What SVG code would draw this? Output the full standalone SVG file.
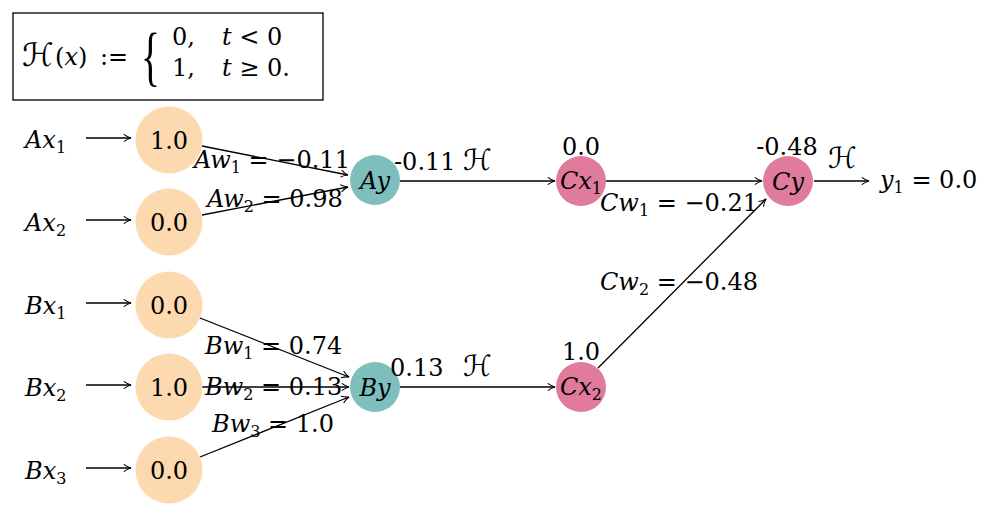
<svg xmlns="http://www.w3.org/2000/svg" width="996" height="518" viewBox="0 0 996 518">
<style>
text{font-family:"DejaVu Serif","Liberation Serif",serif;font-size:24px;fill:#000}
.i{font-style:italic}
.s{font-size:16px}
.cal{font-family:"DejaVu Serif","DejaVu Sans",serif;font-style:italic;font-size:29px}
.in{fill:#FCD9AE}
.hid{fill:#7EBFBD}
.out{fill:#E07B9C}
.ln{stroke:#000;stroke-width:1.3;fill:none}
.arr{marker-end:url(#ah)}
</style>
<defs>
<marker id="ah" viewBox="0 0 10 10" refX="9" refY="5" markerWidth="9" markerHeight="9" markerUnits="userSpaceOnUse" orient="auto">
<path d="M1,1 Q5,4 9,5 Q5,6 1,9" fill="none" stroke="#000" stroke-width="1.2"/>
</marker>
</defs>
<g id="formula">
<rect x="13" y="13" width="310" height="87" fill="#fff" stroke="#000" stroke-width="1.3"/>
<text x="22" y="66" class="cal" style="font-size:32px">ℋ</text>
<text x="55" y="65">(<tspan class="i">x</tspan>)</text>
<text x="100" y="65">:=</text>
<text transform="translate(141,78) scale(0.6,1)" style="font-family:'Liberation Serif',serif;font-size:66px">{</text>
<text x="172" y="45">0,</text>
<text x="222" y="45"><tspan class="i">t</tspan> &lt; 0</text>
<text x="172" y="76">1,</text>
<text x="222" y="76"><tspan class="i">t</tspan> ≥ 0.</text>
</g>
<g id="connectors">
<line class="ln arr" x1="86" y1="138" x2="131" y2="138"/>
<line class="ln arr" x1="86" y1="220" x2="131" y2="220"/>
<line class="ln arr" x1="86" y1="303" x2="131" y2="303"/>
<line class="ln arr" x1="86" y1="385" x2="131" y2="385"/>
<line class="ln arr" x1="86" y1="468" x2="131" y2="468"/>
<line class="ln arr" x1="202" y1="146" x2="348" y2="175"/>
<line class="ln arr" x1="202" y1="215" x2="348" y2="187"/>
<line class="ln arr" x1="200" y1="318" x2="349" y2="377"/>
<line class="ln arr" x1="202" y1="387" x2="349" y2="387"/>
<line class="ln arr" x1="200" y1="457" x2="349" y2="397"/>
<line class="ln arr" x1="400" y1="181" x2="555" y2="181"/>
<line class="ln arr" x1="400" y1="387" x2="555" y2="387"/>
<line class="ln arr" x1="606" y1="181" x2="762" y2="181"/>
<line class="ln arr" x1="598" y1="368" x2="766" y2="199"/>
<line class="ln arr" x1="814" y1="181" x2="869" y2="181"/>
</g>
<g id="Ax1"><text x="25" y="148"><tspan class="i">Ax</tspan><tspan class="s" dy="5">1</tspan></text><circle class="in" cx="169" cy="140" r="33.5"/><text x="169" y="149" text-anchor="middle">1.0</text></g>
<g id="Ax2"><text x="25" y="231"><tspan class="i">Ax</tspan><tspan class="s" dy="5">2</tspan></text><circle class="in" cx="169" cy="222" r="33.5"/><text x="169" y="231" text-anchor="middle">0.0</text></g>
<g id="Bx1"><text x="25" y="314"><tspan class="i">Bx</tspan><tspan class="s" dy="5">1</tspan></text><circle class="in" cx="169" cy="305" r="33.5"/><text x="169" y="314" text-anchor="middle">0.0</text></g>
<g id="Bx2"><text x="25" y="396"><tspan class="i">Bx</tspan><tspan class="s" dy="5">2</tspan></text><circle class="in" cx="169" cy="387" r="33.5"/><text x="169" y="396" text-anchor="middle">1.0</text></g>
<g id="Bx3"><text x="25" y="479"><tspan class="i">Bx</tspan><tspan class="s" dy="5">3</tspan></text><circle class="in" cx="169" cy="470" r="33.5"/><text x="169" y="479" text-anchor="middle">0.0</text></g>
<g id="Ay"><circle class="hid" cx="375" cy="180" r="25"/><text class="i" x="375" y="189" text-anchor="middle">Ay</text></g>
<g id="By"><circle class="hid" cx="375" cy="387" r="25"/><text class="i" x="375" y="396" text-anchor="middle">By</text></g>
<g id="Cx1"><circle class="out" cx="581" cy="181" r="25"/><text x="581" y="189" text-anchor="middle"><tspan class="i">Cx</tspan><tspan class="s" dy="5">1</tspan></text></g>
<g id="Cx2"><circle class="out" cx="581" cy="387" r="25"/><text x="581" y="395" text-anchor="middle"><tspan class="i">Cx</tspan><tspan class="s" dy="5">2</tspan></text></g>
<g id="Cy"><circle class="out" cx="788" cy="181" r="25"/><text class="i" x="788" y="190" text-anchor="middle">Cy</text></g>
<g id="labels">
<text x="194" y="168"><tspan class="i">Aw</tspan><tspan class="s" dy="5">1</tspan><tspan dy="-5"> = −0.11</tspan></text>
<text x="207" y="207"><tspan class="i">Aw</tspan><tspan class="s" dy="5">2</tspan><tspan dy="-5"> = 0.98</tspan></text>
<text x="205" y="354"><tspan class="i">Bw</tspan><tspan class="s" dy="5">1</tspan><tspan dy="-5"> = 0.74</tspan></text>
<text x="205" y="395"><tspan class="i">Bw</tspan><tspan class="s" dy="5">2</tspan><tspan dy="-5"> = 0.13</tspan></text>
<text x="212" y="432"><tspan class="i">Bw</tspan><tspan class="s" dy="5">3</tspan><tspan dy="-5"> = 1.0</tspan></text>
<text x="394" y="170">-0.11</text>
<text x="463" y="170" class="cal">ℋ</text>
<text x="390" y="376">0.13</text>
<text x="463" y="376" class="cal">ℋ</text>
<text x="581" y="155" text-anchor="middle">0.0</text>
<text x="581" y="360" text-anchor="middle">1.0</text>
<text x="787" y="155" text-anchor="middle">-0.48</text>
<text x="828" y="168" class="cal">ℋ</text>
<text x="880" y="188"><tspan class="i">y</tspan><tspan class="s" dy="5">1</tspan><tspan dy="-5"> = 0.0</tspan></text>
<text x="600" y="211"><tspan class="i">Cw</tspan><tspan class="s" dy="5">1</tspan><tspan dy="-5"> = −0.21</tspan></text>
<text x="600" y="290"><tspan class="i">Cw</tspan><tspan class="s" dy="5">2</tspan><tspan dy="-5"> = −0.48</tspan></text>
</g>
</svg>
